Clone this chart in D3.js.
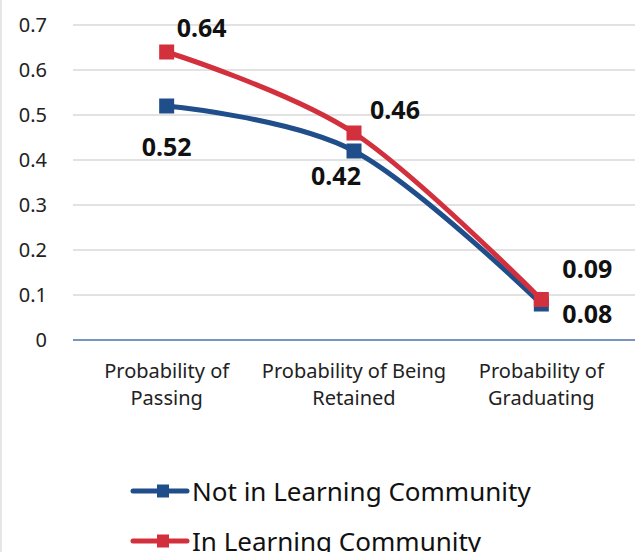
<!DOCTYPE html>
<html>
<head>
<meta charset="utf-8">
<script src="https://cdn.jsdelivr.net/npm/d3@7/dist/d3.min.js"></script>
<style>
  html, body { margin: 0; padding: 0; background: #fff; }
  svg { display: block; font-family: "Noto Sans", "Open Sans", sans-serif; }
</style>
</head>
<body>
<div id="chart"></div>
<script>
// Outcome categories and the two cohorts' probabilities
const categories = [
  ["Probability of", "Passing"],
  ["Probability of Being", "Retained"],
  ["Probability of", "Graduating"]
];
const seriesNames = ["Not in Learning Community", "In Learning Community"];
const notInLC = [0.52, 0.42, 0.08];
const inLC = [0.64, 0.46, 0.09];
const yTicks = [0, 0.1, 0.2, 0.3, 0.4, 0.5, 0.6, 0.7];

const W = 639, H = 552;
const margin = { top: 25, right: 4, bottom: 212, left: 73 };
const colors = ["#1f4e8a", "#d3303d"];

const svg = d3.select("#chart").append("svg")
  .attr("width", W).attr("height", H);

// thin frame on the left edge
svg.append("line").attr("x1", 1).attr("x2", 1).attr("y1", 0).attr("y2", H)
  .attr("stroke", "#e6e6e6").attr("stroke-width", 2);

const x = d3.scaleBand()
  .domain(d3.range(categories.length))
  .range([margin.left, W - margin.right]);
const y = d3.scaleLinear().domain([0, 0.7]).range([H - margin.bottom, margin.top]);
const cx = i => x(i) + x.bandwidth() / 2;

// gridlines
svg.append("g").selectAll("line").data(yTicks.filter(t => t > 0)).join("line")
  .attr("x1", margin.left).attr("x2", W - margin.right)
  .attr("y1", d => y(d)).attr("y2", d => y(d))
  .attr("stroke", "#d9d9d9").attr("stroke-width", 1.5);

// y axis labels
const yAxis = d3.axisLeft(y).tickValues(yTicks).tickSize(0).tickPadding(0)
  .tickFormat(d => d === 0 ? "0" : d3.format(".1f")(d));
const gy = svg.append("g").attr("transform", `translate(${47},0)`).call(yAxis);
gy.select(".domain").remove();
gy.selectAll("text").attr("font-size", 20).attr("fill", "#222")
  .attr("font-family", "'Noto Sans', sans-serif");

// baseline
svg.append("line")
  .attr("x1", margin.left).attr("x2", W - margin.right)
  .attr("y1", y(0)).attr("y2", y(0))
  .attr("stroke", "#4a72a8").attr("stroke-width", 1.5);

// category labels
const gx = svg.append("g");
categories.forEach((lines, i) => {
  const t = gx.append("text").attr("text-anchor", "middle")
    .attr("font-size", 20).attr("fill", "#222");
  lines.forEach((s, k) => {
    t.append("tspan").attr("x", cx(i)).attr("y", 378 + k * 27).text(s);
  });
});

// smoothed lines with square markers
const series = [notInLC, inLC];
const line = d3.line()
  .x((d, i) => cx(i)).y(d => y(d))
  .curve(d3.curveCardinal.tension(0));

series.forEach((vals, s) => {
  svg.append("path").datum(vals)
    .attr("d", line).attr("fill", "none")
    .attr("stroke", colors[s]).attr("stroke-width", 5)
    .attr("stroke-linejoin", "round");
  svg.append("g").selectAll("rect").data(vals).join("rect")
    .attr("x", (d, i) => cx(i) - 7.5).attr("y", d => y(d) - 7.5)
    .attr("width", 15).attr("height", 15).attr("fill", colors[s]);
});

// value labels
const labelOffsets = [
  [[0, 50], [-18, 34], [46, 19]],
  [[35, -15], [41, -14], [46, -22]]
];
series.forEach((vals, s) => {
  svg.append("g").selectAll("text").data(vals).join("text")
    .attr("x", (d, i) => cx(i) + labelOffsets[s][i][0])
    .attr("y", (d, i) => y(d) + labelOffsets[s][i][1])
    .attr("text-anchor", "middle")
    .attr("font-size", 25).attr("font-weight", "bold").attr("fill", "#111")
    .text(d => d3.format(".2f")(d));
});

// legend
const legend = svg.append("g");
seriesNames.forEach((name, s) => {
  const ly = 491 + s * 50;
  legend.append("line").attr("x1", 133).attr("x2", 187)
    .attr("y1", ly).attr("y2", ly)
    .attr("stroke", colors[s]).attr("stroke-width", 5).attr("stroke-linecap", "round");
  legend.append("rect").attr("x", 157).attr("y", ly - 6.5)
    .attr("width", 12).attr("height", 13).attr("fill", colors[s]);
  legend.append("text").attr("x", 192).attr("y", ly + 10)
    .attr("font-size", 26).attr("fill", "#111").text(name);
});
</script>
</body>
</html>
